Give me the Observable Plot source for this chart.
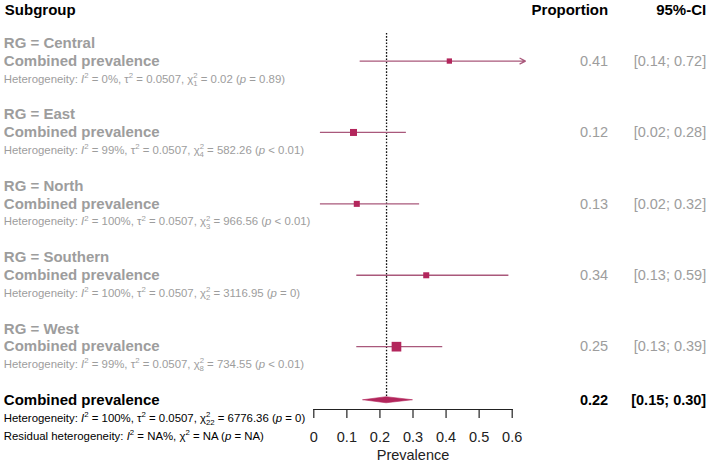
<!DOCTYPE html>
<html>
<head>
<meta charset="utf-8">
<script src="https://cdn.jsdelivr.net/npm/d3@7"></script>
<script src="https://cdn.jsdelivr.net/npm/@observablehq/plot@0.6"></script>
<style>
  html, body { margin: 0; padding: 0; background: #fff; }
  #chart svg { display: block; }
</style>
</head>
<body>
<div id="chart"></div>
<script>
// ---------- data ----------
const headers = ["Subgroup", "Proportion", "95%-CI"];
const subgroups = ["RG = Central", "RG = East", "RG = North", "RG = Southern", "RG = West"];
const combinedLabel = "Combined prevalence";
const estimate = [0.41, 0.12, 0.13, 0.34, 0.25];
const lower = [0.14, 0.02, 0.02, 0.13, 0.13];
const upper = [0.72, 0.28, 0.32, 0.59, 0.39];
const weights = [11.6, 20.2, 14.9, 14.9, 38.4]; // relative weight (%), square area
const hetText = [
  "Heterogeneity: I² = 0%, τ² = 0.0507, χ²₁ = 0.02 (p = 0.89)",
  "Heterogeneity: I² = 99%, τ² = 0.0507, χ²₄ = 582.26 (p < 0.01)",
  "Heterogeneity: I² = 100%, τ² = 0.0507, χ²₃ = 966.56 (p < 0.01)",
  "Heterogeneity: I² = 100%, τ² = 0.0507, χ²₂ = 3116.95 (p = 0)",
  "Heterogeneity: I² = 99%, τ² = 0.0507, χ²₈ = 734.55 (p < 0.01)"
];
const overall = {est: 0.22, lower: 0.15, upper: 0.30};
const overallText = [
  "Heterogeneity: I² = 100%, τ² = 0.0507, χ²₂₂ = 6776.36 (p = 0)",
  "Residual heterogeneity: I² = NA%, χ² = NA (p = NA)"
];
const xTicks = [0, 0.1, 0.2, 0.3, 0.4, 0.5, 0.6];
const xLimit = 0.64;      // right edge of plotting region (CIs beyond are drawn as arrows)
const axisLabel = "Prevalence";

// ---------- layout (rows) ----------
const fmt = d3.format(".2f");
const groups = subgroups.map((label, i) => ({
  label, est: estimate[i], lo: lower[i], hi: upper[i], w: weights[i], het: hetText[i],
  labelRow: 2 + 4 * i, estRow: 3 + 4 * i, hetRow: 4 + 4 * i,
  prop: fmt(estimate[i]), ci: `[${fmt(lower[i])}; ${fmt(upper[i])}]`
}));
const overallRow = 22;
const overallRows = overallText.map((t, i) => ({t, row: overallRow + 1 + i}));
const diamondH = 0.17;
const diamond = [
  {x: overall.lower, y1: overallRow, y2: overallRow},
  {x: overall.est, y1: overallRow - diamondH, y2: overallRow + diamondH},
  {x: overall.upper, y1: overallRow, y2: overallRow}
];
const inside = groups.filter(d => d.hi <= xLimit);
const clipped = groups.filter(d => d.hi > xLimit);

const gray = "#9d9d9d";
const ciColor = "#a9587b";
const boxColor = "#b3265c";
const font = "'Liberation Sans', Arial, Helvetica, sans-serif";
const leftDx = -310;
const hetSize = 11.4;

const chart = Plot.plot({
  width: 709,
  height: 464,
  marginLeft: 313.3,
  marginRight: 197.3,
  marginTop: 0,
  marginBottom: 55,
  x: {domain: [0, 0.6]},
  y: {domain: [0, 25.6], range: [7, 464], axis: null},
  r: {domain: [0, 100], range: [0, 8.8]},
  style: {fontFamily: font, color: "#222", background: "#fff", overflow: "visible"},
  marks: [
    // headers
    Plot.text([headers[0]], {frameAnchor: "left", y: () => 0.15, dx: leftDx + 1, text: d => d, textAnchor: "start", fontSize: 15, fontWeight: "bold", fill: "#000"}),
    Plot.text([headers[1]], {frameAnchor: "right", y: () => 0.15, dx: 96, text: d => d, textAnchor: "end", fontSize: 15, fontWeight: "bold", fill: "#000"}),
    Plot.text([headers[2]], {frameAnchor: "right", y: () => 0.15, dx: 194, text: d => d, textAnchor: "end", fontSize: 15, fontWeight: "bold", fill: "#000"}),
    // reference line
    Plot.ruleX([overall.est], {y1: 1.45, y2: overallRow, stroke: "#111", strokeWidth: 1.3, strokeDasharray: "1.6,1.6"}),
    // subgroup labels
    Plot.text(groups, {frameAnchor: "left", y: "labelRow", dx: leftDx, text: "label", textAnchor: "start", fontSize: 15, fontWeight: "bold", fill: gray}),
    Plot.text(groups, {frameAnchor: "left", y: "estRow", dx: leftDx, text: () => combinedLabel, textAnchor: "start", fontSize: 15, fontWeight: "bold", fill: gray}),
    Plot.text(groups, {frameAnchor: "left", y: "hetRow", dx: leftDx, text: "het", textAnchor: "start", fontSize: hetSize, fill: gray}),
    // CI lines
    Plot.ruleY(inside, {y: "estRow", x1: "lo", x2: "hi", stroke: ciColor, strokeWidth: 1.3}),
    Plot.arrow(clipped, {y1: "estRow", y2: "estRow", x1: "lo", x2: () => xLimit, stroke: ciColor, strokeWidth: 1.3, headLength: 7, headAngle: 55}),
    // squares
    Plot.dot(groups, {x: "est", y: "estRow", r: "w", symbol: "square", fill: boxColor, stroke: "none"}),
    // right columns
    Plot.text(groups, {frameAnchor: "right", y: "estRow", dx: 96, text: "prop", textAnchor: "end", fontSize: 14.5, fill: gray}),
    Plot.text(groups, {frameAnchor: "right", y: "estRow", dx: 194, text: "ci", textAnchor: "end", fontSize: 14.5, fill: gray}),
    // overall
    Plot.areaY(diamond, {x: "x", y1: "y1", y2: "y2", fill: boxColor, stroke: boxColor, strokeWidth: 0.6}),
    Plot.text([combinedLabel], {frameAnchor: "left", y: () => overallRow, dx: leftDx, text: d => d, textAnchor: "start", fontSize: 15, fontWeight: "bold", fill: "#000"}),
    Plot.text(overallRows, {frameAnchor: "left", y: "row", dx: leftDx, text: "t", textAnchor: "start", fontSize: hetSize, fill: "#000"}),
    Plot.text([fmt(overall.est)], {frameAnchor: "right", y: () => overallRow, dx: 96, text: d => d, textAnchor: "end", fontSize: 14.5, fontWeight: "bold", fill: "#000"}),
    Plot.text([`[${fmt(overall.lower)}; ${fmt(overall.upper)}]`], {frameAnchor: "right", y: () => overallRow, dx: 194, text: d => d, textAnchor: "end", fontSize: 14.5, fontWeight: "bold", fill: "#000"}),
    // axis
    Plot.frame({anchor: "bottom", stroke: "#222", strokeWidth: 1.2}),
    Plot.axisX({anchor: "bottom", ticks: xTicks, tickFormat: d => String(d), tickSize: 9, tickPadding: 13, fontSize: 14.5, strokeWidth: 1.2,
      label: axisLabel, labelAnchor: "center", labelArrow: "none", labelOffset: 50})
  ]
});

// rich text: italic I and p, stacked super/subscripts
const subMap = {"₀":"0","₁":"1","₂":"2","₃":"3","₄":"4","₅":"5","₆":"6","₇":"7","₈":"8","₉":"9"};
d3.select(chart).selectAll("text").each(function () {
  const s = this.textContent;
  if (!s.includes("²") || this.querySelector("tspan")) return;
  const parts = [];
  for (let i = 0; i < s.length; i++) {
    const c = s[i];
    let kind = "normal", ch = c;
    if (c === "²") { kind = "sup"; ch = "2"; }
    else if (subMap[c]) { kind = "sub"; ch = subMap[c]; }
    else if (c === "I" && s[i + 1] === "²") kind = "italic";
    else if (c === "p" && s[i - 1] === "(") kind = "italic";
    const last = parts[parts.length - 1];
    if (last && last.kind === kind) last.text += ch; else parts.push({kind, text: ch});
  }
  this.textContent = "";
  const el = d3.select(this);
  let cur = 0;
  parts.forEach((p, j) => {
    const t = el.append("tspan").text(p.text);
    let target = 0;
    if (p.kind === "sup") { target = -4.8; t.attr("font-size", 7.8); }
    else if (p.kind === "sub") {
      target = 3.3; t.attr("font-size", 7.8);
      if (parts[j - 1] && parts[j - 1].kind === "sup") t.attr("dx", -4.4);
    }
    else if (p.kind === "italic") t.attr("font-style", "italic");
    if (target !== cur) { t.attr("dy", target - cur); cur = target; }
  });
});

document.getElementById("chart").appendChild(chart);
</script>
</body>
</html>
